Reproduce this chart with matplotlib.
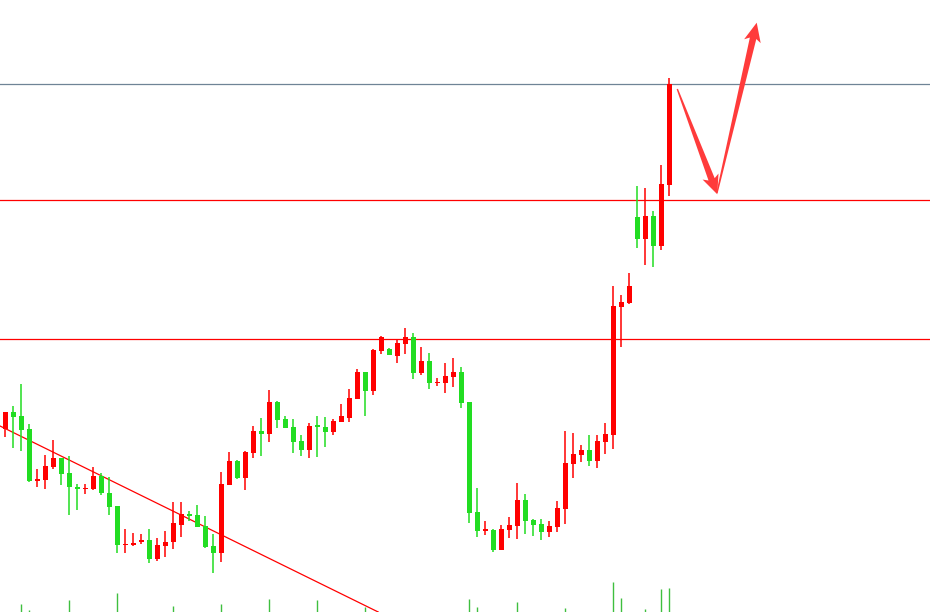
import numpy as np
import matplotlib
matplotlib.use("Agg")
import matplotlib.pyplot as plt
from matplotlib.patches import Polygon

# candle data (price units)
opens = [183.3, 200, 196, 182.7, 131.3, 132, 145.3, 154, 138.7, 125.3,
         122.7, 123.3, 136, 118.7, 106, 66.7, 67.3, 70, 72, 53.3,
         66, 70, 87.3, 98, 96.7, 86, 66, 59.3, 127.3, 151.3,
         134, 159.3, 181.3, 178, 210, 192.7, 184.7, 170.7, 162, 186,
         185.3, 180, 190, 194, 212.7, 240, 221.3, 261.3, 263.3, 256,
         268, 274.7, 239.3, 250.7, 228.7, 229.3, 235.3, 240, 210, 100,
         81.3, 82, 62, 82, 86, 112, 92, 88, 80, 85.3,
         103.3, 148, 157.3, 162, 151.3, 170, 177.3, 305.3, 309.3, 395.3,
         373.3, 396, 366, 427.3]
closes = [200, 195.3, 182, 131.3, 133.3, 146, 154, 138, 125.3, 122.7,
          124, 136, 118.7, 105.3, 66.7, 68, 68, 72, 53.3, 66.7,
          70, 88.7, 98, 96, 85.3, 65.3, 59.3, 128, 151.3, 134,
          160, 181.3, 178, 210, 192, 184, 170, 162, 186, 185.3,
          180, 190.7, 196, 214, 240, 221.3, 262, 274.7, 256.7, 268.7,
          274.7, 239.3, 250.7, 228.7, 230, 236, 240, 209.3, 99.3, 81.3,
          82, 62, 83.3, 86.7, 112, 91.3, 87.3, 80, 86, 104,
          149.3, 158, 162, 151.3, 170.7, 178, 306, 310, 326, 373.3,
          396, 366, 428, 528]
highs = [200, 206, 228, 188, 143.3, 157.3, 172, 154, 156, 128,
         128, 144.7, 138.7, 134.7, 106, 83.3, 78.7, 78, 82.7, 74,
         80.7, 110, 110, 101.3, 107.3, 96, 78, 140, 160, 152,
         161.3, 186, 194, 222, 211.3, 196, 192.7, 176.7, 188.7, 196,
         194.7, 193.3, 208, 222.7, 242.7, 240, 262.7, 276, 264, 272.7,
         284, 278.7, 264.7, 258.7, 234, 248.7, 254, 245.3, 210, 124,
         91.3, 83.3, 87.3, 94.7, 129.3, 118, 93.3, 93.3, 91.3, 111.3,
         181.3, 178.7, 166.7, 177.3, 177.3, 189.3, 326, 317.3, 339.3, 426,
         424, 401.3, 447.3, 534]
lows = [175.3, 164, 161.3, 130, 125.3, 123.3, 143.3, 127.3, 97.3, 102,
        118, 122, 117.3, 97.3, 58.7, 58.7, 66, 68, 48.7, 50.7,
        55.3, 63.3, 75.3, 90.7, 85.3, 64, 39.3, 50, 127.3, 133.3,
        122, 154, 156, 170, 184, 184, 159.3, 156, 154, 155.3,
        165.3, 177.3, 190, 190, 212.7, 196, 217.3, 258, 256.7, 249.3,
        258, 233.3, 236.7, 223.3, 226, 219.3, 225.3, 204, 89.3, 75.3,
        77.3, 60, 62, 74, 73.3, 78, 76, 72, 75.3, 80,
        88, 134, 150, 146, 144, 158, 163.3, 265.3, 308, 364,
        347.3, 344.7, 362, 416]

# volume bars that show at the bottom edge
vol_idx = [2, 3, 8, 14, 21, 27, 33, 39, 45, 58, 59, 64, 70, 76, 77, 80, 82, 83]
vol_val = [8, 2, 12, 19, 6, 8, 13, 12, 4.7, 13, 5, 10, 4, 30, 14, 3, 23, 24]

# horizontal levels and trend line anchors
red_levels = [412, 273]
top_level = 528
trend_pts = [(0, 183.4), (29, 69.3)]

# hand drawn "V" arrow: (start, tip) in (candle index, price)
arrows = [((84.0, 523), (89.0, 417.7)),
          ((88.96, 419), (93.93, 589.3))]

UP = '#ff0000'
DOWN = '#22dd22'

fig = plt.figure(figsize=(9.3, 6.12), dpi=100)
ax = fig.add_axes([0, 0, 1, 1])
ax.set_xlim(-0.6625, 115.59)
ax.set_ylim(0, 612)
ax.axis('off')

n = len(opens)
idx = np.arange(n)
o = np.array(opens)
c = np.array(closes)
cols = [UP if c[i] >= o[i] else DOWN for i in range(n)]

ax.vlines(vol_idx, 0, vol_val, colors='#3fbf3f', lw=1.0, zorder=1)

for y in red_levels:
    ax.axhline(y, color='#ff0000', lw=0.9, zorder=1)
ax.axhline(top_level, color='#6f8496', lw=0.9, zorder=1)
ax.axline(trend_pts[0], trend_pts[1], color='#ff0000', lw=0.9, zorder=1)

ax.vlines(idx, lows, highs, colors=cols, lw=1.1, zorder=2)
body = np.maximum(np.abs(c - o), 1.6)
ax.bar(idx, body, bottom=np.minimum(o, c), width=0.62, color=cols,
       linewidth=0, zorder=3)


def tapered_arrow(start, tip, w0=0.7, w1=3.3, head_len=16, head_w=8.5):
    # build in pixel space so widths look right, then back to data
    to_px = ax.transData
    s = np.array(to_px.transform(start))
    t = np.array(to_px.transform(tip))
    u = (t - s) / np.hypot(*(t - s))
    nrm = np.array([-u[1], u[0]])
    base = t - u * head_len
    barb = t - u * (head_len + 3)
    pts = [s + nrm * w0, base + nrm * w1, barb + nrm * head_w, t,
           barb - nrm * head_w, base - nrm * w1, s - nrm * w0]
    pts = to_px.inverted().transform(np.array(pts))
    ax.add_patch(Polygon(pts, closed=True, color='#ff3b3b', lw=0, zorder=4))


for a, b in arrows:
    tapered_arrow(a, b)

plt.savefig('out.png', dpi=100)
